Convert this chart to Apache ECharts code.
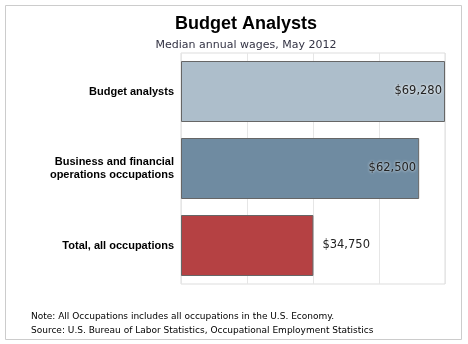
<!DOCTYPE html>
<html><head><meta charset="utf-8">
<script src="https://cdn.jsdelivr.net/npm/echarts@6/dist/echarts.min.js"></script>
<style>html,body{margin:0;padding:0;background:#fff}#c{width:468px;height:344px}</style>
</head><body><div id="c"></div>
<script>
const categories = ["Budget analysts", "Business and financial\noperations occupations", "Total, all occupations"];
const wages = [69280, 62500, 34750];
const valueLabels = ["$69,280", "$62,500", "$34,750"];
const barColors = ["#adbecb", "#6f8ba1", "#b54143"];
const labelPositions = ["insideRight", "insideRight", "right"];

const chart = echarts.init(document.getElementById('c'), null, {renderer: 'canvas'});
chart.setOption({
  animation: false,
  backgroundColor: '#fff',
  title: [
    {text: 'Budget Analysts', left: 241, textAlign: 'center', top: 10,
     textStyle: {fontFamily: 'Liberation Sans, Arial', fontWeight: 'bold', fontSize: 18, color: '#000'}},
    {text: 'Median annual wages, May 2012', left: 241, textAlign: 'center', top: 35,
     textStyle: {fontFamily: 'DejaVu Sans', fontWeight: 'normal', fontSize: 11, color: '#333344'}},
    {text: 'Note: All Occupations includes all occupations in the U.S. Economy.', left: 26, top: 307,
     textStyle: {fontFamily: 'DejaVu Sans', fontWeight: 'normal', fontSize: 9, color: '#000'}},
    {text: 'Source: U.S. Bureau of Labor Statistics, Occupational Employment Statistics', left: 26, top: 321,
     textStyle: {fontFamily: 'DejaVu Sans', fontWeight: 'normal', fontSize: 9, color: '#000'}}
  ],
  graphic: [
    {type: 'rect', shape: {x: 5.5, y: 5.5, width: 456, height: 334}, style: {fill: 'none', stroke: '#cccccc', lineWidth: 1}, z: -1}
  ],
  grid: {left: 181, top: 53, width: 264, height: 231, show: true, borderColor: '#dddddd', borderWidth: 1},
  xAxis: {
    type: 'value', min: 0, max: 69280, interval: 17320,
    axisLabel: {show: false}, axisTick: {show: false}, axisLine: {show: false},
    splitLine: {show: true, lineStyle: {color: '#e6e6e6', width: 1}}
  },
  yAxis: {
    type: 'category', data: categories, inverse: true,
    axisLine: {show: false}, axisTick: {show: false},
    axisLabel: {fontFamily: 'Liberation Sans, Arial', fontWeight: 'bold', fontSize: 11, color: '#000', lineHeight: 13, margin: 7, align: 'right'}
  },
  series: [{
    type: 'bar',
    barWidth: 61,
    data: wages.map((v, i) => ({
      value: v,
      itemStyle: {color: barColors[i], borderColor: '#666666', borderWidth: 1},
      label: {show: true, position: labelPositions[i], distance: i === 2 ? 9 : 3, formatter: valueLabels[i]}
    })),
    label: {fontFamily: 'DejaVu Sans', fontSize: 11.5, color: '#222', textShadowColor: '#ffffff', textShadowBlur: 3}
  }]
});
</script></body></html>
